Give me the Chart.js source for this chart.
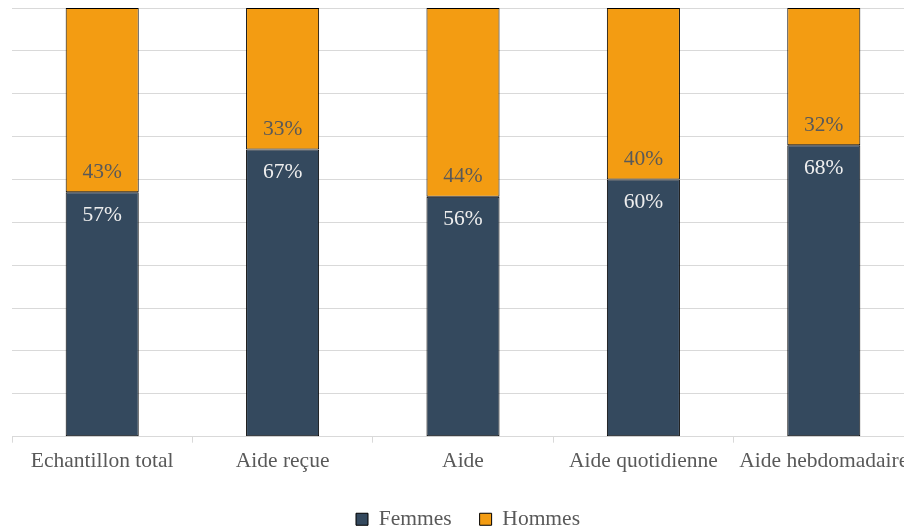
<!DOCTYPE html>
<html>
<head>
<meta charset="utf-8">
<script src="https://cdn.jsdelivr.net/npm/chart.js@4/dist/chart.umd.min.js"></script>
<style>
  html, body { margin: 0; padding: 0; background: #fff; overflow: hidden; }
  .graphMain { width: 934px; height: 529px; }
</style>
</head>
<body>
<div class="graphMain">
  <canvas id="chart" width="934" height="529"></canvas>
</div>
<script>
const categories = ['Echantillon total', 'Aide reçue', 'Aide', 'Aide quotidienne', 'Aide hebdomadaire'];
const femmes = [57, 67, 56, 60, 68];
const hommes = [43, 33, 44, 40, 32];

const serif = "'Liberation Serif', 'Times New Roman', serif";

// percent labels inside the segments
const barLabels = {
  id: 'barLabels',
  afterLayout(chart) {
    // nudge the legend a bit to the right
    chart.legend.left += 5;
    chart.legend.right += 5;
  },
  afterDatasetsDraw(chart) {
    const ctx = chart.ctx;
    ctx.save();
    ctx.font = "21.5px 'Liberation Serif'";
    ctx.textAlign = 'center';
    ctx.textBaseline = 'middle';
    chart.data.datasets.forEach((ds, i) => {
      const meta = chart.getDatasetMeta(i);
      meta.data.forEach((bar, j) => {
        const txt = ds.data[j] + '%';
        if (i === 0) {
          ctx.fillStyle = '#eeeeee';
          ctx.fillText(txt, bar.x, bar.y + 23);
        } else {
          ctx.fillStyle = '#595959';
          ctx.fillText(txt, bar.x, bar.base - 20);
        }
      });
    });
    ctx.restore();
  }
};

function draw() {
  new Chart(document.getElementById('chart'), {
    type: 'bar',
    data: {
      labels: categories,
      datasets: [
        {
          label: 'Femmes',
          data: femmes,
          backgroundColor: '#34495e',
          borderColor: '#000000',
          borderWidth: 1,
          borderSkipped: false,
        },
        {
          label: 'Hommes',
          data: hommes,
          backgroundColor: '#f39c12',
          borderColor: '#000000',
          borderWidth: 1,
          borderSkipped: false,
        },
      ],
    },
    plugins: [barLabels],
    options: {
      responsive: false,
      animation: false,
      layout: { padding: { left: 12, right: 20, top: 8, bottom: -11 } },
      datasets: { bar: { categoryPercentage: 1, barPercentage: 0.405 } },
      plugins: {
        tooltip: { enabled: false },
        legend: {
          position: 'bottom',
          labels: {
            font: { family: serif, size: 21.5 },
            color: '#595959',
            boxWidth: 12,
            boxHeight: 12,
            padding: 28,
          },
        },
      },
      scales: {
        x: {
          stacked: true,
          grid: {
            drawOnChartArea: false,
            color: '#d9d9d9',
            tickLength: 6,
          },
          border: { color: '#d9d9d9' },
          ticks: {
            font: { family: serif, size: 21.5 },
            color: '#595959',
            padding: 6,
            maxRotation: 0,
            autoSkip: false,
          },
        },
        y: {
          stacked: true,
          min: 0,
          max: 100,
          ticks: { display: false, stepSize: 10 },
          grid: { color: '#d9d9d9', drawTicks: false },
          border: { display: false },
        },
      },
    },
  });
}

document.fonts.load("21.5px 'Liberation Serif'").then(draw, draw);
</script>
</body>
</html>
